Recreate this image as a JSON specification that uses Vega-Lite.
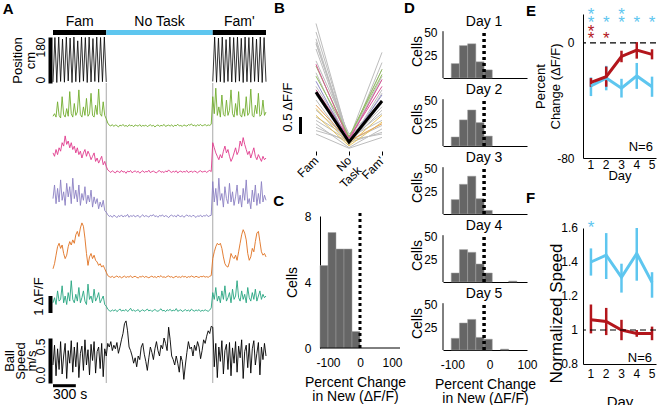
{
"$schema":"https://vega.github.io/schema/vega-lite/v6.json",
"padding":{"left":2,"top":1,"right":0,"bottom":0},
"config":{"font":"Liberation Sans","view":{"stroke":null},
"axis":{"grid":false,"domainColor":"#000000","tickColor":"#000000","labelColor":"#000000","titleColor":"#000000","labelFontSize":12,"titleFontSize":14,"titleFontWeight":"normal","labelFont":"Liberation Sans","titleFont":"Liberation Sans","labelOverlap":false,"labelFlush":false},
"legend":{"labelFont":"Liberation Sans"},"text":{"font":"Liberation Sans"}},
"datasets":{
"vr":[{"t":700},{"t":2100}],
"ph":[{"seg":"Fam","t0":0,"t1":700,"mid":350},{"seg":"No Task","t0":700,"t1":2100,"mid":1400},{"seg":"Fam'","t0":2100,"t1":2800,"mid":2450}],
"pos":[{"ph":"a","t":0,"p":4},{"ph":"a","t":25,"p":178},{"ph":"a","t":50,"p":2},{"ph":"a","t":75,"p":180},{"ph":"a","t":100,"p":6},{"ph":"a","t":125,"p":172},{"ph":"a","t":150,"p":3},{"ph":"a","t":175,"p":180},{"ph":"a","t":200,"p":8},{"ph":"a","t":225,"p":176},{"ph":"a","t":250,"p":2},{"ph":"a","t":275,"p":180},{"ph":"a","t":300,"p":5},{"ph":"a","t":325,"p":165},{"ph":"a","t":350,"p":3},{"ph":"a","t":375,"p":180},{"ph":"a","t":400,"p":7},{"ph":"a","t":425,"p":178},{"ph":"a","t":450,"p":2},{"ph":"a","t":475,"p":180},{"ph":"a","t":500,"p":4},{"ph":"a","t":525,"p":174},{"ph":"a","t":550,"p":6},{"ph":"a","t":575,"p":180},{"ph":"a","t":600,"p":3},{"ph":"a","t":625,"p":178},{"ph":"a","t":650,"p":5},{"ph":"a","t":675,"p":180},{"ph":"a","t":700,"p":4},
{"ph":"b","t":2100,"p":6},{"ph":"b","t":2125,"p":180},{"ph":"b","t":2150,"p":3},{"ph":"b","t":2175,"p":176},{"ph":"b","t":2200,"p":5},{"ph":"b","t":2225,"p":180},{"ph":"b","t":2250,"p":2},{"ph":"b","t":2275,"p":170},{"ph":"b","t":2300,"p":6},{"ph":"b","t":2325,"p":180},{"ph":"b","t":2350,"p":4},{"ph":"b","t":2375,"p":178},{"ph":"b","t":2400,"p":3},{"ph":"b","t":2425,"p":180},{"ph":"b","t":2450,"p":7},{"ph":"b","t":2475,"p":175},{"ph":"b","t":2500,"p":2},{"ph":"b","t":2525,"p":180},{"ph":"b","t":2550,"p":5},{"ph":"b","t":2575,"p":178},{"ph":"b","t":2600,"p":3},{"ph":"b","t":2625,"p":180},{"ph":"b","t":2650,"p":6},{"ph":"b","t":2675,"p":172},{"ph":"b","t":2700,"p":4},{"ph":"b","t":2725,"p":180},{"ph":"b","t":2750,"p":2},{"ph":"b","t":2775,"p":178},{"ph":"b","t":2800,"p":5}],
"tr":[
{"t":0,"g":0.75,"m":1.3,"v":1.2,"o":0.6,"c":0.6,"s":0.2},
{"t":20,"g":0.9,"m":1.1,"v":2.0,"o":0.9,"c":0.9,"s":0.42},
{"t":40,"g":0.7,"m":1.5,"v":0.9,"o":1.4,"c":0.5,"s":0.08},
{"t":60,"g":1.6,"m":1.2,"v":1.8,"o":1.9,"c":1.3,"s":0.38},
{"t":80,"g":0.8,"m":1.6,"v":1.0,"o":2.1,"c":0.7,"s":0.15},
{"t":100,"g":0.65,"m":1.4,"v":2.3,"o":1.8,"c":0.8,"s":0.46},
{"t":120,"g":1.9,"m":1.9,"v":1.1,"o":2.0,"c":1.6,"s":0.1},
{"t":140,"g":0.85,"m":1.7,"v":1.6,"o":1.5,"c":0.6,"s":0.3},
{"t":160,"g":0.7,"m":2.3,"v":0.8,"o":1.2,"c":1.0,"s":0.44},
{"t":180,"g":1.2,"m":1.8,"v":2.1,"o":1.4,"c":0.5,"s":0.05},
{"t":200,"g":0.75,"m":2.0,"v":1.3,"o":1.9,"c":1.2,"s":0.36},
{"t":220,"g":2.2,"m":1.6,"v":1.9,"o":2.2,"c":0.7,"s":0.22},
{"t":240,"g":0.9,"m":1.9,"v":0.9,"o":2.0,"c":1.9,"s":0.47},
{"t":260,"g":0.7,"m":1.5,"v":2.4,"o":2.3,"c":0.8,"s":0.12},
{"t":280,"g":1.5,"m":1.7,"v":1.2,"o":2.1,"c":0.6,"s":0.4},
{"t":300,"g":0.8,"m":1.3,"v":1.7,"o":2.6,"c":1.1,"s":0.18},
{"t":320,"g":1.0,"m":1.6,"v":1.0,"o":2.8,"c":0.7,"s":0.45},
{"t":340,"g":2.3,"m":1.2,"v":2.0,"o":2.5,"c":1.5,"s":0.06},
{"t":360,"g":0.85,"m":1.4,"v":0.8,"o":3.0,"c":0.6,"s":0.33},
{"t":380,"g":0.7,"m":1.0,"v":1.5,"o":3.3,"c":0.9,"s":0.41},
{"t":400,"g":1.3,"m":1.3,"v":1.1,"o":3.1,"c":1.3,"s":0.14},
{"t":420,"g":0.8,"m":1.5,"v":1.9,"o":2.4,"c":0.7,"s":0.48},
{"t":440,"g":1.8,"m":1.1,"v":0.9,"o":1.5,"c":0.5,"s":0.2},
{"t":460,"g":0.75,"m":1.4,"v":1.4,"o":0.8,"c":1.7,"s":0.37},
{"t":480,"g":0.9,"m":1.2,"v":1.0,"o":1.3,"c":0.8,"s":0.09},
{"t":500,"g":2.1,"m":0.9,"v":1.7,"o":1.5,"c":1.0,"s":0.43},
{"t":520,"g":0.8,"m":1.1,"v":0.7,"o":1.2,"c":0.6,"s":0.25},
{"t":540,"g":0.7,"m":1.3,"v":1.3,"o":1.4,"c":1.4,"s":0.46},
{"t":560,"g":1.4,"m":0.8,"v":0.9,"o":1.1,"c":0.7,"s":0.11},
{"t":580,"g":0.85,"m":1.0,"v":1.2,"o":1.0,"c":0.9,"s":0.35},
{"t":600,"g":2.35,"m":0.7,"v":0.6,"o":0.8,"c":1.2,"s":0.4},
{"t":620,"g":0.9,"m":0.9,"v":1.0,"o":0.9,"c":0.6,"s":0.16},
{"t":640,"g":0.75,"m":1.1,"v":0.7,"o":0.7,"c":0.8,"s":0.44},
{"t":660,"g":1.6,"m":0.6,"v":1.1,"o":0.8,"c":1.0,"s":0.07},
{"t":680,"g":0.8,"m":0.8,"v":0.5,"o":0.6,"c":0.5,"s":0.38},
{"t":700,"g":0.6,"m":0.5,"v":0.4,"o":0.4,"c":0.4,"s":0.3},
{"t":720,"g":0.35,"m":0.3,"v":0.25,"o":0.2,"c":0.22,"s":0.44},
{"t":740,"g":0.22,"m":0.22,"v":0.15,"o":0.14,"c":0.14,"s":0.4},
{"t":760,"g":0.18,"m":0.15,"v":0.2,"o":0.1,"c":0.1,"s":0.46},
{"t":780,"g":0.26,"m":0.25,"v":0.1,"o":0.16,"c":0.18,"s":0.36},
{"t":800,"g":0.15,"m":0.18,"v":0.22,"o":0.08,"c":0.12,"s":0.42},
{"t":820,"g":0.24,"m":0.12,"v":0.17,"o":0.13,"c":0.2,"s":0.38},
{"t":840,"g":0.2,"m":0.24,"v":0.08,"o":0.18,"c":0.08,"s":0.45},
{"t":860,"g":0.12,"m":0.2,"v":0.2,"o":0.1,"c":0.15,"s":0.33},
{"t":880,"g":0.23,"m":0.14,"v":0.14,"o":0.15,"c":0.24,"s":0.4},
{"t":900,"g":0.18,"m":0.27,"v":0.24,"o":0.07,"c":0.11,"s":0.48},
{"t":920,"g":0.27,"m":0.17,"v":0.12,"o":0.12,"c":0.17,"s":0.55},
{"t":940,"g":0.16,"m":0.21,"v":0.19,"o":0.17,"c":0.13,"s":0.66},
{"t":960,"g":0.21,"m":0.1,"v":0.16,"o":0.09,"c":0.21,"s":0.69},
{"t":980,"g":0.14,"m":0.23,"v":0.27,"o":0.14,"c":0.09,"s":0.58},
{"t":1000,"g":0.25,"m":0.18,"v":0.1,"o":0.11,"c":0.16,"s":0.4},
{"t":1020,"g":0.19,"m":0.26,"v":0.2,"o":0.19,"c":0.28,"s":0.36},
{"t":1040,"g":0.22,"m":0.13,"v":0.15,"o":0.08,"c":0.12,"s":0.3},
{"t":1060,"g":0.13,"m":0.2,"v":0.23,"o":0.13,"c":0.18,"s":0.22},
{"t":1080,"g":0.24,"m":0.24,"v":0.12,"o":0.16,"c":0.1,"s":0.28},
{"t":1100,"g":0.2,"m":0.16,"v":0.18,"o":0.1,"c":0.15,"s":0.18},
{"t":1120,"g":0.17,"m":0.22,"v":0.21,"o":0.06,"c":0.2,"s":0.3},
{"t":1140,"g":0.26,"m":0.11,"v":0.09,"o":0.14,"c":0.07,"s":0.26},
{"t":1160,"g":0.15,"m":0.19,"v":0.17,"o":0.12,"c":0.14,"s":0.4},
{"t":1180,"g":0.21,"m":0.25,"v":0.25,"o":0.18,"c":0.19,"s":0.44},
{"t":1200,"g":0.18,"m":0.15,"v":0.13,"o":0.09,"c":0.11,"s":0.32},
{"t":1220,"g":0.23,"m":0.21,"v":0.2,"o":0.15,"c":0.16,"s":0.24},
{"t":1240,"g":0.14,"m":0.18,"v":0.16,"o":0.11,"c":0.23,"s":0.14},
{"t":1260,"g":0.2,"m":0.28,"v":0.11,"o":0.07,"c":0.12,"s":0.28},
{"t":1280,"g":0.25,"m":0.14,"v":0.22,"o":0.13,"c":0.18,"s":0.4},
{"t":1300,"g":0.17,"m":0.2,"v":0.18,"o":0.17,"c":0.09,"s":0.34},
{"t":1320,"g":0.22,"m":0.23,"v":0.26,"o":0.1,"c":0.15,"s":0.26},
{"t":1340,"g":0.12,"m":0.17,"v":0.14,"o":0.14,"c":0.21,"s":0.38},
{"t":1360,"g":0.2,"m":0.12,"v":0.19,"o":0.08,"c":0.13,"s":0.46},
{"t":1380,"g":0.24,"m":0.22,"v":0.1,"o":0.16,"c":0.1,"s":0.36},
{"t":1400,"g":0.16,"m":0.26,"v":0.21,"o":0.12,"c":0.17,"s":0.3},
{"t":1420,"g":0.21,"m":0.16,"v":0.17,"o":0.2,"c":0.25,"s":0.42},
{"t":1440,"g":0.19,"m":0.2,"v":0.24,"o":0.1,"c":0.12,"s":0.38},
{"t":1460,"g":0.27,"m":0.14,"v":0.13,"o":0.13,"c":0.16,"s":0.5},
{"t":1480,"g":0.15,"m":0.24,"v":0.2,"o":0.09,"c":0.08,"s":0.44},
{"t":1500,"g":0.2,"m":0.18,"v":0.16,"o":0.15,"c":0.19,"s":0.36},
{"t":1520,"g":0.23,"m":0.3,"v":0.08,"o":0.18,"c":0.14,"s":0.62},
{"t":1540,"g":0.17,"m":0.2,"v":0.19,"o":0.11,"c":0.22,"s":0.48},
{"t":1560,"g":0.25,"m":0.15,"v":0.23,"o":0.14,"c":0.11,"s":0.3},
{"t":1580,"g":0.14,"m":0.22,"v":0.15,"o":0.07,"c":0.17,"s":0.26},
{"t":1600,"g":0.22,"m":0.17,"v":0.2,"o":0.12,"c":0.13,"s":0.2},
{"t":1620,"g":0.19,"m":0.25,"v":0.12,"o":0.16,"c":0.26,"s":0.3},
{"t":1640,"g":0.28,"m":0.12,"v":0.25,"o":0.1,"c":0.1,"s":0.22},
{"t":1660,"g":0.18,"m":0.2,"v":0.17,"o":0.13,"c":0.15,"s":0.12},
{"t":1680,"g":0.21,"m":0.23,"v":0.14,"o":0.09,"c":0.19,"s":0.3},
{"t":1700,"g":0.15,"m":0.16,"v":0.21,"o":0.17,"c":0.09,"s":0.24},
{"t":1720,"g":0.24,"m":0.21,"v":0.1,"o":0.12,"c":0.14,"s":0.04},
{"t":1740,"g":0.2,"m":0.18,"v":0.18,"o":0.15,"c":0.2,"s":0.2},
{"t":1760,"g":0.17,"m":0.26,"v":0.24,"o":0.08,"c":0.12,"s":0.34},
{"t":1780,"g":0.26,"m":0.14,"v":0.16,"o":0.14,"c":0.17,"s":0.46},
{"t":1800,"g":0.22,"m":0.2,"v":0.2,"o":0.11,"c":0.1,"s":0.38},
{"t":1820,"g":0.3,"m":0.22,"v":0.13,"o":0.18,"c":0.23,"s":0.4},
{"t":1840,"g":0.19,"m":0.15,"v":0.22,"o":0.13,"c":0.15,"s":0.3},
{"t":1860,"g":0.23,"m":0.24,"v":0.17,"o":0.1,"c":0.11,"s":0.42},
{"t":1880,"g":0.16,"m":0.19,"v":0.09,"o":0.16,"c":0.18,"s":0.36},
{"t":1900,"g":0.25,"m":0.13,"v":0.19,"o":0.12,"c":0.13,"s":0.46},
{"t":1920,"g":0.2,"m":0.21,"v":0.15,"o":0.09,"c":0.2,"s":0.4},
{"t":1940,"g":0.27,"m":0.25,"v":0.23,"o":0.15,"c":0.09,"s":0.27},
{"t":1960,"g":0.18,"m":0.17,"v":0.12,"o":0.13,"c":0.16,"s":0.36},
{"t":1980,"g":0.22,"m":0.2,"v":0.2,"o":0.17,"c":0.12,"s":0.48},
{"t":2000,"g":0.26,"m":0.23,"v":0.17,"o":0.11,"c":0.19,"s":0.44},
{"t":2020,"g":0.19,"m":0.15,"v":0.25,"o":0.14,"c":0.14,"s":0.52},
{"t":2040,"g":0.24,"m":0.22,"v":0.14,"o":0.1,"c":0.1,"s":0.58},
{"t":2060,"g":0.21,"m":0.27,"v":0.19,"o":0.16,"c":0.17,"s":0.55},
{"t":2080,"g":0.28,"m":0.2,"v":0.22,"o":0.2,"c":0.3,"s":0.63},
{"t":2100,"g":1.9,"m":1.9,"v":2.2,"o":1.2,"c":1.2,"s":0.62},
{"t":2120,"g":0.9,"m":1.6,"v":1.0,"o":1.6,"c":0.8,"s":0.18},
{"t":2140,"g":2.4,"m":1.3,"v":1.8,"o":1.9,"c":1.5,"s":0.44},
{"t":2160,"g":0.8,"m":1.1,"v":0.8,"o":2.1,"c":0.7,"s":0.06},
{"t":2180,"g":1.3,"m":0.9,"v":2.4,"o":2.0,"c":1.0,"s":0.4},
{"t":2200,"g":0.7,"m":1.2,"v":1.1,"o":2.1,"c":0.6,"s":0.24},
{"t":2220,"g":2.0,"m":1.0,"v":1.5,"o":1.8,"c":1.3,"s":0.47},
{"t":2240,"g":0.85,"m":1.4,"v":0.7,"o":1.3,"c":0.8,"s":0.1},
{"t":2260,"g":0.75,"m":1.7,"v":1.9,"o":0.9,"c":1.6,"s":0.36},
{"t":2280,"g":1.7,"m":1.3,"v":1.2,"o":0.75,"c":0.7,"s":0.43},
{"t":2300,"g":0.8,"m":1.5,"v":0.9,"o":0.7,"c":0.9,"s":0.15},
{"t":2320,"g":1.1,"m":1.1,"v":2.1,"o":1.0,"c":1.2,"s":0.45},
{"t":2340,"g":2.3,"m":0.8,"v":1.0,"o":1.5,"c":0.6,"s":0.08},
{"t":2360,"g":0.9,"m":1.0,"v":1.6,"o":1.3,"c":1.4,"s":0.39},
{"t":2380,"g":0.7,"m":1.3,"v":0.8,"o":1.2,"c":0.8,"s":0.22},
{"t":2400,"g":1.5,"m":1.6,"v":1.3,"o":1.4,"c":1.0,"s":0.46},
{"t":2420,"g":0.8,"m":1.2,"v":2.0,"o":1.1,"c":1.9,"s":0.12},
{"t":2440,"g":2.2,"m":1.4,"v":0.9,"o":1.6,"c":0.9,"s":0.41},
{"t":2460,"g":0.85,"m":2.0,"v":1.4,"o":2.1,"c":0.7,"s":0.28},
{"t":2480,"g":0.7,"m":1.7,"v":0.7,"o":2.6,"c":1.3,"s":0.48},
{"t":2500,"g":1.2,"m":2.2,"v":1.8,"o":2.9,"c":0.8,"s":0.05},
{"t":2520,"g":0.75,"m":1.8,"v":1.1,"o":2.7,"c":1.1,"s":0.35},
{"t":2540,"g":1.9,"m":1.5,"v":2.3,"o":2.3,"c":0.6,"s":0.42},
{"t":2560,"g":0.8,"m":1.2,"v":0.9,"o":1.5,"c":1.5,"s":0.17},
{"t":2580,"g":0.95,"m":1.4,"v":1.2,"o":1.1,"c":0.9,"s":0.44},
{"t":2600,"g":2.35,"m":1.0,"v":0.6,"o":1.3,"c":0.7,"s":0.11},
{"t":2620,"g":0.8,"m":1.3,"v":1.7,"o":1.8,"c":1.2,"s":0.38},
{"t":2640,"g":0.7,"m":1.6,"v":1.0,"o":1.6,"c":0.8,"s":0.47},
{"t":2660,"g":1.4,"m":1.1,"v":2.0,"o":2.2,"c":1.4,"s":0.2},
{"t":2680,"g":0.9,"m":0.9,"v":0.8,"o":2.7,"c":0.7,"s":0.33},
{"t":2700,"g":2.1,"m":1.2,"v":1.5,"o":2.8,"c":1.0,"s":0.45},
{"t":2720,"g":0.75,"m":1.0,"v":0.9,"o":2.2,"c":1.3,"s":0.09},
{"t":2740,"g":0.85,"m":0.8,"v":2.2,"o":1.6,"c":0.8,"s":0.4},
{"t":2760,"g":1.7,"m":1.1,"v":1.0,"o":1.4,"c":1.1,"s":0.26},
{"t":2780,"g":0.8,"m":0.9,"v":1.4,"o":1.5,"c":0.9,"s":0.44},
{"t":2800,"g":1.0,"m":1.0,"v":1.1,"o":1.3,"c":1.0,"s":0.3}],
"cells":[
{"c":1,"x":1,"v":3.55,"g":"gray"},{"c":1,"x":2,"v":0.1,"g":"gray"},{"c":1,"x":3,"v":2.0,"g":"gray"},
{"c":2,"x":1,"v":3.3,"g":"gray"},{"c":2,"x":2,"v":0.15,"g":"gray"},{"c":2,"x":3,"v":2.7,"g":"gray"},
{"c":3,"x":1,"v":3.1,"g":"gray"},{"c":3,"x":2,"v":0.05,"g":"gray"},{"c":3,"x":3,"v":2.4,"g":"gray"},
{"c":4,"x":1,"v":2.95,"g":"gray"},{"c":4,"x":2,"v":0.2,"g":"gray"},{"c":4,"x":3,"v":1.9,"g":"gray"},
{"c":5,"x":1,"v":2.8,"g":"gray"},{"c":5,"x":2,"v":0.12,"g":"gray"},{"c":5,"x":3,"v":2.2,"g":"gray"},
{"c":6,"x":1,"v":2.1,"g":"gray"},{"c":6,"x":2,"v":0.0,"g":"gray"},{"c":6,"x":3,"v":1.6,"g":"gray"},
{"c":7,"x":1,"v":1.7,"g":"gray"},{"c":7,"x":2,"v":0.18,"g":"gray"},{"c":7,"x":3,"v":1.3,"g":"gray"},
{"c":8,"x":1,"v":1.45,"g":"gray"},{"c":8,"x":2,"v":0.08,"g":"gray"},{"c":8,"x":3,"v":1.1,"g":"gray"},
{"c":9,"x":1,"v":1.3,"g":"gray"},{"c":9,"x":2,"v":-0.02,"g":"gray"},{"c":9,"x":3,"v":1.5,"g":"gray"},
{"c":10,"x":1,"v":1.0,"g":"gray"},{"c":10,"x":2,"v":0.15,"g":"gray"},{"c":10,"x":3,"v":0.9,"g":"gray"},
{"c":11,"x":1,"v":0.8,"g":"gray"},{"c":11,"x":2,"v":0.2,"g":"gray"},{"c":11,"x":3,"v":0.7,"g":"gray"},
{"c":12,"x":1,"v":0.7,"g":"gray"},{"c":12,"x":2,"v":0.1,"g":"gray"},{"c":12,"x":3,"v":0.55,"g":"gray"},
{"c":13,"x":1,"v":0.6,"g":"gray"},{"c":13,"x":2,"v":-0.1,"g":"gray"},{"c":13,"x":3,"v":0.45,"g":"gray"},
{"c":14,"x":1,"v":0.5,"g":"gray"},{"c":14,"x":2,"v":0.05,"g":"gray"},{"c":14,"x":3,"v":0.35,"g":"gray"},
{"c":15,"x":1,"v":0.4,"g":"gray"},{"c":15,"x":2,"v":0.12,"g":"gray"},{"c":15,"x":3,"v":0.3,"g":"gray"},
{"c":16,"x":1,"v":2.45,"g":"gray"},{"c":16,"x":2,"v":0.3,"g":"gray"},{"c":16,"x":3,"v":1.2,"g":"gray"},
{"c":17,"x":1,"v":0.3,"g":"gray"},{"c":17,"x":2,"v":-0.12,"g":"gray"},{"c":17,"x":3,"v":0.2,"g":"gray"},
{"c":18,"x":1,"v":3.0,"g":"gray"},{"c":18,"x":2,"v":0.05,"g":"gray"},{"c":18,"x":3,"v":1.0,"g":"gray"},
{"c":19,"x":1,"v":2.3,"g":"green"},{"c":19,"x":2,"v":0.2,"g":"green"},{"c":19,"x":3,"v":2.2,"g":"green"},
{"c":20,"x":1,"v":2.0,"g":"green"},{"c":20,"x":2,"v":0.22,"g":"green"},{"c":20,"x":3,"v":2.05,"g":"green"},
{"c":21,"x":1,"v":2.35,"g":"pink"},{"c":21,"x":2,"v":0.1,"g":"pink"},{"c":21,"x":3,"v":1.9,"g":"pink"},
{"c":22,"x":1,"v":1.6,"g":"pink"},{"c":22,"x":2,"v":0.18,"g":"pink"},{"c":22,"x":3,"v":1.7,"g":"pink"},
{"c":23,"x":1,"v":1.85,"g":"purple"},{"c":23,"x":2,"v":0.05,"g":"purple"},{"c":23,"x":3,"v":1.45,"g":"purple"},
{"c":24,"x":1,"v":1.05,"g":"yellow"},{"c":24,"x":2,"v":0.0,"g":"yellow"},{"c":24,"x":3,"v":0.85,"g":"yellow"},
{"c":25,"x":1,"v":0.85,"g":"yellow"},{"c":25,"x":2,"v":-0.05,"g":"yellow"},{"c":25,"x":3,"v":0.65,"g":"yellow"},
{"c":26,"x":1,"v":1.15,"g":"orange"},{"c":26,"x":2,"v":0.1,"g":"orange"},{"c":26,"x":3,"v":0.6,"g":"orange"}],
"mean":[{"x":1,"v":1.53},{"x":2,"v":0.065},{"x":3,"v":1.27}],
"ch":[{"x0":-125,"x1":-100,"n":5},{"x0":-100,"x1":-75,"n":7},{"x0":-75,"x1":-50,"n":6},{"x0":-50,"x1":-25,"n":6},{"x0":-25,"x1":0,"n":1}],
"dh":[
{"day":1,"x0":-103,"x1":-81,"n":16},{"day":1,"x0":-81,"x1":-59,"n":36},{"day":1,"x0":-59,"x1":-37,"n":38},{"day":1,"x0":-37,"x1":-15,"n":18},{"day":1,"x0":-15,"x1":7,"n":9},
{"day":2,"x0":-103,"x1":-81,"n":10},{"day":2,"x0":-81,"x1":-59,"n":29},{"day":2,"x0":-59,"x1":-37,"n":40},{"day":2,"x0":-37,"x1":-15,"n":26},{"day":2,"x0":-15,"x1":7,"n":11},
{"day":3,"x0":-103,"x1":-81,"n":16},{"day":3,"x0":-81,"x1":-59,"n":33},{"day":3,"x0":-59,"x1":-37,"n":42},{"day":3,"x0":-37,"x1":-15,"n":17},{"day":3,"x0":-15,"x1":7,"n":4},
{"day":4,"x0":-103,"x1":-81,"n":10},{"day":4,"x0":-81,"x1":-59,"n":36},{"day":4,"x0":-59,"x1":-37,"n":33},{"day":4,"x0":-37,"x1":-15,"n":20},{"day":4,"x0":-15,"x1":7,"n":10},{"day":4,"x0":51,"x1":73,"n":1},
{"day":5,"x0":-103,"x1":-81,"n":13},{"day":5,"x0":-81,"x1":-59,"n":30},{"day":5,"x0":-59,"x1":-37,"n":34},{"day":5,"x0":-37,"x1":-15,"n":14},{"day":5,"x0":-15,"x1":7,"n":12},{"day":5,"x0":29,"x1":51,"n":1}],
"ef":[
{"panel":"E","grp":"No Task","day":1,"m":-30,"lo":-37,"hi":-24},
{"panel":"E","grp":"No Task","day":2,"m":-24.5,"lo":-33,"hi":-16},
{"panel":"E","grp":"No Task","day":3,"m":-31.5,"lo":-38,"hi":-25},
{"panel":"E","grp":"No Task","day":4,"m":-23,"lo":-32,"hi":-14},
{"panel":"E","grp":"No Task","day":5,"m":-30.5,"lo":-37.5,"hi":-23.5},
{"panel":"E","grp":"New","day":1,"m":-27.5,"lo":-30.5,"hi":-24.5},
{"panel":"E","grp":"New","day":2,"m":-23.5,"lo":-30.5,"hi":-16.5},
{"panel":"E","grp":"New","day":3,"m":-9.5,"lo":-13.5,"hi":-5.5},
{"panel":"E","grp":"New","day":4,"m":-5,"lo":-11,"hi":0.5},
{"panel":"E","grp":"New","day":5,"m":-8,"lo":-11.5,"hi":-4.5},
{"panel":"F","grp":"No Task","day":1,"m":1.40,"lo":1.32,"hi":1.48},
{"panel":"F","grp":"No Task","day":2,"m":1.44,"lo":1.30,"hi":1.57},
{"panel":"F","grp":"No Task","day":3,"m":1.31,"lo":1.22,"hi":1.39},
{"panel":"F","grp":"No Task","day":4,"m":1.45,"lo":1.29,"hi":1.60},
{"panel":"F","grp":"No Task","day":5,"m":1.28,"lo":1.19,"hi":1.34},
{"panel":"F","grp":"New","day":1,"m":1.06,"lo":0.98,"hi":1.15},
{"panel":"F","grp":"New","day":2,"m":1.05,"lo":0.97,"hi":1.13},
{"panel":"F","grp":"New","day":3,"m":1.00,"lo":0.94,"hi":1.06},
{"panel":"F","grp":"New","day":4,"m":0.98,"lo":0.96,"hi":1.00},
{"panel":"F","grp":"New","day":5,"m":0.98,"lo":0.94,"hi":1.02}],
"stars":[
{"panel":"E","grp":"No Task","day":1,"y":22.9},{"panel":"E","grp":"No Task","day":1,"y":17.4},{"panel":"E","grp":"No Task","day":2,"y":17.4},{"panel":"E","grp":"No Task","day":3,"y":22.9},{"panel":"E","grp":"No Task","day":3,"y":17.4},{"panel":"E","grp":"No Task","day":4,"y":17.4},{"panel":"E","grp":"No Task","day":5,"y":17.4},
{"panel":"E","grp":"New","day":1,"y":11.1},{"panel":"E","grp":"New","day":1,"y":6.25},{"panel":"E","grp":"New","day":2,"y":6.25},
{"panel":"F","grp":"No Task","day":1,"y":1.629}],
"fticks":[{"v":0.8},{"v":1},{"v":1.2},{"v":1.4},{"v":1.6}]
},
"spacing":5,
"resolve":{"scale":{"x":"independent","y":"independent","color":"independent","stroke":"independent"},"legend":{"color":"independent","stroke":"independent"}},
"hconcat":[
{"vconcat":[
 {"width":213,"height":23,"layer":[
  {"data":{"name":"ph"},"mark":{"type":"rect"},"encoding":{"x":{"field":"t0","type":"quantitative","scale":{"domain":[0,2800],"nice":false,"zero":false},"axis":null},"x2":{"field":"t1"},"y":{"datum":2,"type":"quantitative","scale":{"domain":[0,23],"nice":false,"zero":false},"axis":null},"y2":{"datum":7},"color":{"field":"seg","type":"nominal","scale":{"domain":["Fam","No Task","Fam'"],"range":["#000000","#5ec6ef","#000000"]},"legend":null}}},
  {"data":{"name":"ph"},"mark":{"type":"text","fontSize":14,"baseline":"alphabetic","align":"center"},"encoding":{"x":{"field":"mid","type":"quantitative","scale":{"domain":[0,2800],"nice":false,"zero":false}},"y":{"datum":11},"text":{"field":"seg"}}},
  {"data":{"values":[{}]},"mark":{"type":"text","text":"A","fontSize":15,"fontWeight":"bold","align":"left","baseline":"alphabetic"},"encoding":{"x":{"datum":-660},"y":{"datum":23}}}
 ]},
 {"width":213,"height":46,"data":{"name":"pos"},"mark":{"type":"line","color":"#000000","strokeWidth":0.8},
  "encoding":{"x":{"field":"t","type":"quantitative","scale":{"domain":[0,2800],"nice":false,"zero":false},"axis":null},
   "y":{"field":"p","type":"quantitative","scale":{"domain":[0,180],"nice":false},"axis":{"values":[0,180],"labelAngle":270,"labelBaseline":"bottom","labelAlign":{"condition":{"test":"datum.value==0","value":"left"},"value":"right"},"ticks":false,"tickSize":0,"domainWidth":4,"offset":3,"labelPadding":3,"title":["Position","cm"],"titleFontSize":13,"titleLineHeight":13,"titlePadding":-3}},
   "detail":{"field":"ph"}}},
 {"width":213,"height":46,"layer":[
  {"data":{"name":"vr"},"mark":{"type":"rule","color":"#a8a8a8","strokeWidth":1},"encoding":{"x":{"field":"t","type":"quantitative","scale":{"domain":[0,2800],"nice":false,"zero":false},"axis":null}}},
  {"data":{"name":"tr"},"mark":{"type":"line","color":"#72ad2e","strokeWidth":0.9},"encoding":{"x":{"field":"t","type":"quantitative","scale":{"domain":[0,2800],"nice":false,"zero":false}},"y":{"field":"g","type":"quantitative","scale":{"domain":[0,2.706],"nice":false},"axis":null}}}]},
 {"width":213,"height":46,"layer":[
  {"data":{"name":"vr"},"mark":{"type":"rule","color":"#a8a8a8","strokeWidth":1},"encoding":{"x":{"field":"t","type":"quantitative","scale":{"domain":[0,2800],"nice":false,"zero":false},"axis":null}}},
  {"data":{"name":"tr"},"mark":{"type":"line","color":"#e03a8c","strokeWidth":0.9},"encoding":{"x":{"field":"t","type":"quantitative","scale":{"domain":[0,2800],"nice":false,"zero":false}},"y":{"field":"m","type":"quantitative","scale":{"domain":[0,2.706],"nice":false},"axis":null}}}]},
 {"width":213,"height":44,"layer":[
  {"data":{"name":"vr"},"mark":{"type":"rule","color":"#a8a8a8","strokeWidth":1},"encoding":{"x":{"field":"t","type":"quantitative","scale":{"domain":[0,2800],"nice":false,"zero":false},"axis":null}}},
  {"data":{"name":"tr"},"mark":{"type":"line","color":"#8b80c3","strokeWidth":0.9},"encoding":{"x":{"field":"t","type":"quantitative","scale":{"domain":[0,2800],"nice":false,"zero":false}},"y":{"field":"v","type":"quantitative","scale":{"domain":[0,2.588],"nice":false},"axis":null}}}]},
 {"width":213,"height":60,"layer":[
  {"data":{"name":"vr"},"mark":{"type":"rule","color":"#a8a8a8","strokeWidth":1},"encoding":{"x":{"field":"t","type":"quantitative","scale":{"domain":[0,2800],"nice":false,"zero":false},"axis":null}}},
  {"data":{"name":"tr"},"mark":{"type":"line","color":"#e0711f","strokeWidth":0.9},"encoding":{"x":{"field":"t","type":"quantitative","scale":{"domain":[0,2800],"nice":false,"zero":false}},"y":{"field":"o","type":"quantitative","scale":{"domain":[0,3.529],"nice":false},"axis":null}}}]},
 {"width":213,"height":34,"layer":[
  {"data":{"name":"vr"},"mark":{"type":"rule","color":"#a8a8a8","strokeWidth":1},"encoding":{"x":{"field":"t","type":"quantitative","scale":{"domain":[0,2800],"nice":false,"zero":false},"axis":null}}},
  {"data":{"name":"tr"},"mark":{"type":"line","color":"#26a580","strokeWidth":0.9},"encoding":{"x":{"field":"t","type":"quantitative","scale":{"domain":[0,2800],"nice":false,"zero":false}},"y":{"field":"c","type":"quantitative","scale":{"domain":[0,2],"nice":false},"axis":{"domain":false,"labels":false,"ticks":false,"tickSize":0,"title":"1 ΔF/F","titleFontSize":13,"titlePadding":7.5}}}},
  {"data":{"values":[{}]},"mark":{"type":"rule","color":"#000000","strokeWidth":4},"encoding":{"x":{"datum":-33},"y":{"datum":0},"y2":{"datum":1}}}]},
 {"width":213,"height":25,"data":{"name":"vr"},"mark":{"type":"rule","color":"#a8a8a8","strokeWidth":1},"encoding":{"x":{"field":"t","type":"quantitative","scale":{"domain":[0,2800],"nice":false,"zero":false},"axis":null}}},
 {"width":213,"height":45,"layer":[
  {"data":{"name":"vr"},"mark":{"type":"rule","color":"#a8a8a8","strokeWidth":1},"encoding":{"x":{"field":"t","type":"quantitative","scale":{"domain":[0,2800],"nice":false,"zero":false},"axis":null}}},
  {"data":{"name":"tr"},"mark":{"type":"line","color":"#000000","strokeWidth":0.9},"encoding":{"x":{"field":"t","type":"quantitative","scale":{"domain":[0,2800],"nice":false,"zero":false}},"y":{"field":"s","type":"quantitative","scale":{"domain":[0,0.5],"nice":false},"axis":{"values":[0,0.5],"labelAngle":270,"labelBaseline":"bottom","labelAlign":{"condition":{"test":"datum.value==0","value":"left"},"value":"right"},"ticks":false,"tickSize":0,"domainWidth":4,"offset":3,"labelPadding":3,"title":["Ball","Speed","m/s"],"titleFontSize":13,"titleLineHeight":11,"titlePadding":-4}}}},
  {"data":{"values":[{}]},"mark":{"type":"rule","color":"#000000","strokeWidth":3},"encoding":{"x":{"datum":0},"x2":{"datum":300},"y":{"datum":-0.03}}},
  {"data":{"values":[{}]},"mark":{"type":"text","text":"300 s","fontSize":14,"align":"left","baseline":"middle"},"encoding":{"x":{"datum":0},"y":{"datum":-0.13}}}]}
],"spacing":0,"bounds":"flush","resolve":{"scale":{"x":"independent","y":"independent","color":"independent"}}},
{"hconcat":[
 {"vconcat":[
  {"width":99,"height":137,"layer":[
   {"data":{"name":"cells"},"mark":{"type":"line","strokeWidth":1},"encoding":{
     "x":{"field":"x","type":"quantitative","scale":{"domain":[0.3333,3.3333],"zero":false,"nice":false},"axis":{"values":[1,2,3],"domain":false,"ticks":true,"tickSize":4,"labelAngle":-45,"labelAlign":"right","labelBaseline":"middle","labelPadding":3,"labelFontSize":12,"labelOverlap":false,"title":null,"labelExpr":"datum.value==1?'Fam':(datum.value==2?['No','Task']:\"Fam'\")"}},
     "y":{"field":"v","type":"quantitative","scale":{"domain":[-0.2,3.829],"zero":false,"nice":false},"axis":null},
     "detail":{"field":"c"},
     "color":{"field":"g","type":"nominal","scale":{"domain":["gray","green","pink","purple","yellow","orange"],"range":["#bdbdbd","#93bd62","#d9569a","#8f8dc7","#e6c35f","#e3a15a"]},"legend":null}}},
   {"data":{"name":"mean"},"mark":{"type":"line","strokeWidth":3,"color":"#000000"},"encoding":{"x":{"field":"x","type":"quantitative","scale":{"domain":[0.3333,3.3333],"zero":false,"nice":false}},"y":{"field":"v","type":"quantitative","scale":{"domain":[-0.2,3.829],"zero":false,"nice":false}}}},
   {"data":{"values":[{}]},"mark":{"type":"rule","strokeWidth":3,"color":"#000000"},"encoding":{"x":{"datum":0.53},"y":{"datum":0.3},"y2":{"datum":0.8}}},
   {"data":{"values":[{}]},"mark":{"type":"text","text":"0.5 ΔF/F","angle":270,"fontSize":13,"align":"center","baseline":"middle"},"encoding":{"x":{"datum":0.15},"y":{"datum":1.09}}},
   {"data":{"values":[{}]},"mark":{"type":"text","text":"B","fontSize":15,"fontWeight":"bold","align":"left","baseline":"alphabetic"},"encoding":{"x":{"datum":-0.27},"y":{"datum":3.845}}}]},
  {"width":122,"height":132,"layer":[
   {"data":{"name":"ch"},"mark":{"type":"rect","fill":"#666666","stroke":"#a3a3a3","strokeWidth":0.5},"encoding":{
     "x":{"field":"x0","type":"quantitative","scale":{"domain":[-206.25,175],"nice":false,"zero":false},"axis":{"values":[-100,0,100],"domain":false,"ticks":false,"tickSize":0,"labelPadding":9,"labelExpr":"''+datum.value","title":["Percent Change","in New (ΔF/F)"],"titleFontSize":14,"titleLineHeight":14,"titlePadding":7}},
     "x2":{"field":"x1"},
     "y":{"field":"n","type":"quantitative","scale":{"domain":[0,8],"nice":false},"axis":{"values":[0,4,8],"offset":-26,"ticks":false,"tickSize":0,"labelPadding":9,"title":"Cells","titleFontSize":14,"titlePadding":5}},
     "y2":{"datum":0}}},
   {"data":{"values":[{}]},"mark":{"type":"rule","color":"#000000","strokeWidth":1},"encoding":{"x":{"datum":-125},"x2":{"datum":125},"y":{"datum":0}}},
   {"data":{"values":[{}]},"mark":{"type":"rule","color":"#000000","strokeWidth":3,"strokeDash":[3,3]},"encoding":{"x":{"datum":0},"y":{"datum":0},"y2":{"datum":8.2}}},
   {"data":{"values":[{}]},"mark":{"type":"text","text":"C","fontSize":15,"fontWeight":"bold","align":"left","baseline":"alphabetic"},"encoding":{"x":{"datum":-271},"y":{"datum":8.6}}}]}
 ],"spacing":65,"bounds":"flush","resolve":{"scale":{"x":"independent","y":"independent","color":"independent"}}},
 {"hconcat":[
  {"vconcat":[
   {"width":84,"height":64,"layer":[
    {"data":{"name":"dh"},"transform":[{"filter":"datum.day==1"}],"mark":{"type":"rect","fill":"#666666","stroke":"#a3a3a3","strokeWidth":0.5},"encoding":{"x":{"field":"x0","type":"quantitative","scale":{"domain":[-125,100],"nice":false,"zero":false},"axis":{"labels":false,"ticks":false,"tickSize":0,"title":null}},"x2":{"field":"x1"},"y":{"field":"n","type":"quantitative","scale":{"domain":[0,71.1],"nice":false},"axis":{"values":[25,50],"domain":false,"ticks":false,"tickSize":0,"labelPadding":6,"title":"Cells","titleFontSize":14,"titleX":-19,"titleY":37,"titleBaseline":"bottom","titleAngle":270}},"y2":{"datum":0}}},
    {"data":{"values":[{}]},"mark":{"type":"rule","color":"#000000","strokeWidth":1},"encoding":{"x":{"datum":-125},"y":{"datum":0},"y2":{"datum":52}}},
    {"data":{"values":[{}]},"mark":{"type":"rule","color":"#000000","strokeWidth":3.5,"strokeDash":[3,3]},"encoding":{"x":{"datum":-15},"y":{"datum":0},"y2":{"datum":52}}},
    {"data":{"values":[{}]},"mark":{"type":"text","text":"Day 1","fontSize":14,"align":"center","baseline":"alphabetic"},"encoding":{"x":{"datum":-15},"y":{"datum":57.8}}},
    {"data":{"values":[{}]},"mark":{"type":"text","text":"D","fontSize":15,"fontWeight":"bold","align":"left","baseline":"alphabetic"},"encoding":{"x":{"datum":-229.5},"y":{"datum":71.7}}},
    {"data":{"values":[{}]},"mark":{"type":"text","text":"E","fontSize":15,"fontWeight":"bold","align":"left","baseline":"alphabetic"},"encoding":{"x":{"datum":97.3},"y":{"datum":68.9}}}]},
   {"width":84,"height":64,"layer":[
    {"data":{"name":"dh"},"transform":[{"filter":"datum.day==2"}],"mark":{"type":"rect","fill":"#666666","stroke":"#a3a3a3","strokeWidth":0.5},"encoding":{"x":{"field":"x0","type":"quantitative","scale":{"domain":[-125,100],"nice":false,"zero":false},"axis":{"labels":false,"ticks":false,"tickSize":0,"title":null}},"x2":{"field":"x1"},"y":{"field":"n","type":"quantitative","scale":{"domain":[0,71.1],"nice":false},"axis":{"values":[25,50],"domain":false,"ticks":false,"tickSize":0,"labelPadding":6,"title":"Cells","titleFontSize":14,"titleX":-19,"titleY":37,"titleBaseline":"bottom","titleAngle":270}},"y2":{"datum":0}}},
    {"data":{"values":[{}]},"mark":{"type":"rule","color":"#000000","strokeWidth":1},"encoding":{"x":{"datum":-125},"y":{"datum":0},"y2":{"datum":52}}},
    {"data":{"values":[{}]},"mark":{"type":"rule","color":"#000000","strokeWidth":3.5,"strokeDash":[3,3]},"encoding":{"x":{"datum":-15},"y":{"datum":0},"y2":{"datum":52}}},
    {"data":{"values":[{}]},"mark":{"type":"text","text":"Day 2","fontSize":14,"align":"center","baseline":"alphabetic"},"encoding":{"x":{"datum":-15},"y":{"datum":57.8}}}]},
   {"width":84,"height":64,"layer":[
    {"data":{"name":"dh"},"transform":[{"filter":"datum.day==3"}],"mark":{"type":"rect","fill":"#666666","stroke":"#a3a3a3","strokeWidth":0.5},"encoding":{"x":{"field":"x0","type":"quantitative","scale":{"domain":[-125,100],"nice":false,"zero":false},"axis":{"labels":false,"ticks":false,"tickSize":0,"title":null}},"x2":{"field":"x1"},"y":{"field":"n","type":"quantitative","scale":{"domain":[0,71.1],"nice":false},"axis":{"values":[25,50],"domain":false,"ticks":false,"tickSize":0,"labelPadding":6,"title":"Cells","titleFontSize":14,"titleX":-19,"titleY":37,"titleBaseline":"bottom","titleAngle":270}},"y2":{"datum":0}}},
    {"data":{"values":[{}]},"mark":{"type":"rule","color":"#000000","strokeWidth":1},"encoding":{"x":{"datum":-125},"y":{"datum":0},"y2":{"datum":52}}},
    {"data":{"values":[{}]},"mark":{"type":"rule","color":"#000000","strokeWidth":3.5,"strokeDash":[3,3]},"encoding":{"x":{"datum":-15},"y":{"datum":0},"y2":{"datum":52}}},
    {"data":{"values":[{}]},"mark":{"type":"text","text":"Day 3","fontSize":14,"align":"center","baseline":"alphabetic"},"encoding":{"x":{"datum":-15},"y":{"datum":57.8}}},
    {"data":{"values":[{}]},"mark":{"type":"text","text":"F","fontSize":15,"fontWeight":"bold","align":"left","baseline":"alphabetic"},"encoding":{"x":{"datum":97.3},"y":{"datum":12.2}}}]},
   {"width":84,"height":64,"layer":[
    {"data":{"name":"dh"},"transform":[{"filter":"datum.day==4"}],"mark":{"type":"rect","fill":"#666666","stroke":"#a3a3a3","strokeWidth":0.5},"encoding":{"x":{"field":"x0","type":"quantitative","scale":{"domain":[-125,100],"nice":false,"zero":false},"axis":{"labels":false,"ticks":false,"tickSize":0,"title":null}},"x2":{"field":"x1"},"y":{"field":"n","type":"quantitative","scale":{"domain":[0,71.1],"nice":false},"axis":{"values":[25,50],"domain":false,"ticks":false,"tickSize":0,"labelPadding":6,"title":"Cells","titleFontSize":14,"titleX":-19,"titleY":37,"titleBaseline":"bottom","titleAngle":270}},"y2":{"datum":0}}},
    {"data":{"values":[{}]},"mark":{"type":"rule","color":"#000000","strokeWidth":1},"encoding":{"x":{"datum":-125},"y":{"datum":0},"y2":{"datum":52}}},
    {"data":{"values":[{}]},"mark":{"type":"rule","color":"#000000","strokeWidth":3.5,"strokeDash":[3,3]},"encoding":{"x":{"datum":-15},"y":{"datum":0},"y2":{"datum":52}}},
    {"data":{"values":[{}]},"mark":{"type":"text","text":"Day 4","fontSize":14,"align":"center","baseline":"alphabetic"},"encoding":{"x":{"datum":-15},"y":{"datum":57.8}}}]},
   {"width":84,"height":64,"layer":[
    {"data":{"name":"dh"},"transform":[{"filter":"datum.day==5"}],"mark":{"type":"rect","fill":"#666666","stroke":"#a3a3a3","strokeWidth":0.5},"encoding":{"x":{"field":"x0","type":"quantitative","scale":{"domain":[-125,100],"nice":false,"zero":false},"axis":{"values":[-100,0,100],"ticks":false,"tickSize":0,"labelPadding":9,"labelFlush":false,"labelExpr":"''+datum.value","title":["Percent Change","in New (ΔF/F)"],"titleFontSize":14,"titleLineHeight":14,"titlePadding":7}},"x2":{"field":"x1"},"y":{"field":"n","type":"quantitative","scale":{"domain":[0,71.1],"nice":false},"axis":{"values":[25,50],"domain":false,"ticks":false,"tickSize":0,"labelPadding":6,"title":"Cells","titleFontSize":14,"titleX":-19,"titleY":37,"titleBaseline":"bottom","titleAngle":270}},"y2":{"datum":0}}},
    {"data":{"values":[{}]},"mark":{"type":"rule","color":"#000000","strokeWidth":1},"encoding":{"x":{"datum":-125},"y":{"datum":0},"y2":{"datum":52}}},
    {"data":{"values":[{}]},"mark":{"type":"rule","color":"#000000","strokeWidth":3.5,"strokeDash":[3,3]},"encoding":{"x":{"datum":-15},"y":{"datum":0},"y2":{"datum":52}}},
    {"data":{"values":[{}]},"mark":{"type":"text","text":"Day 5","fontSize":14,"align":"center","baseline":"alphabetic"},"encoding":{"x":{"datum":-15},"y":{"datum":57.8}}}]}
  ],"spacing":4,"bounds":"flush","resolve":{"scale":{"x":"independent","y":"independent","color":"independent"}}},
  {"vconcat":[
   {"width":73,"height":144,"layer":[
    {"data":{"name":"ef"},"transform":[{"filter":"datum.panel=='E'"}],"mark":{"type":"rule","strokeWidth":2.5},"encoding":{
      "x":{"field":"day","type":"quantitative","scale":{"domain":[0.48,5.26],"zero":false,"nice":false},"axis":{"values":[1,2,3,4,5],"labels":false,"ticks":false,"tickSize":0,"title":"Day","titleFontSize":13,"titlePadding":11}},
      "y":{"field":"lo","type":"quantitative","scale":{"domain":[-80,20],"zero":false,"nice":false},"axis":{"values":[-80,0],"ticks":false,"tickSize":0,"labelPadding":9,"labelOverlap":false,"labelExpr":"''+datum.value","title":["Percent","Change (ΔF/F)"],"titleFontSize":13,"titleLineHeight":15,"titleX":-36,"titleBaseline":"bottom","titleAngle":270}},
      "y2":{"field":"hi"},
      "stroke":{"field":"grp","type":"nominal","scale":{"domain":["New","No Task"],"range":["#b3161c","#5ec6ef"]},"legend":null}}},
    {"data":{"name":"ef"},"transform":[{"filter":"datum.panel=='E'"}],"mark":{"type":"line","strokeWidth":3},"encoding":{"x":{"field":"day","type":"quantitative","scale":{"domain":[0.48,5.26],"zero":false,"nice":false}},"y":{"field":"m","type":"quantitative","scale":{"domain":[-80,20],"zero":false,"nice":false}},"stroke":{"field":"grp","type":"nominal","scale":{"domain":["New","No Task"],"range":["#b3161c","#5ec6ef"]},"legend":null}}},
    {"data":{"values":[{}]},"mark":{"type":"rule","color":"#000000","strokeWidth":1.2,"strokeDash":[6,4]},"encoding":{"y":{"datum":0,"type":"quantitative","scale":{"domain":[-80,20],"zero":false,"nice":false}}}},
    {"data":{"name":"stars"},"transform":[{"filter":"datum.panel=='E'"}],"mark":{"type":"text","text":"*","fontSize":17,"baseline":"alphabetic","align":"center","dy":10},"encoding":{"x":{"field":"day","type":"quantitative","scale":{"domain":[0.48,5.26],"zero":false,"nice":false}},"y":{"field":"y","type":"quantitative","scale":{"domain":[-80,20],"zero":false,"nice":false}},"color":{"field":"grp","type":"nominal","scale":{"domain":["New","No Task"],"range":["#b3161c","#5ec6ef"]},"legend":null}}},
    {"data":{"name":"ef"},"transform":[{"filter":"datum.panel=='E' && datum.grp=='New'"}],"mark":{"type":"text","fontSize":12,"align":"center","baseline":"top"},"encoding":{"x":{"field":"day","type":"quantitative","scale":{"domain":[0.48,5.26],"zero":false,"nice":false}},"y":{"datum":-81.7},"text":{"field":"day"}}},
    {"data":{"values":[{}]},"mark":{"type":"text","text":"N=6","fontSize":13,"align":"right","baseline":"middle"},"encoding":{"x":{"datum":5.06},"y":{"datum":-72.4}}}]},
   {"width":73,"height":136,"layer":[
    {"data":{"name":"ef"},"transform":[{"filter":"datum.panel=='F'"}],"mark":{"type":"rule","strokeWidth":2.5},"encoding":{
      "x":{"field":"day","type":"quantitative","scale":{"domain":[0.48,5.26],"zero":false,"nice":false},"axis":{"values":[1,2,3,4,5],"labels":false,"ticks":false,"tickSize":0,"title":"Day","titleFontSize":15,"titlePadding":30}},
      "y":{"field":"lo","type":"quantitative","scale":{"domain":[0.8,1.6],"zero":false,"nice":false},"axis":{"values":[0.8,1,1.2,1.4,1.6],"labels":false,"ticks":false,"tickSize":0,"title":"Normalized Speed","titleFontSize":17,"titleX":-18,"titleY":85,"titleBaseline":"bottom","titleAngle":270}},
      "y2":{"field":"hi"},
      "stroke":{"field":"grp","type":"nominal","scale":{"domain":["New","No Task"],"range":["#b3161c","#5ec6ef"]},"legend":null}}},
    {"data":{"name":"ef"},"transform":[{"filter":"datum.panel=='F'"}],"mark":{"type":"line","strokeWidth":3},"encoding":{"x":{"field":"day","type":"quantitative","scale":{"domain":[0.48,5.26],"zero":false,"nice":false}},"y":{"field":"m","type":"quantitative","scale":{"domain":[0.8,1.6],"zero":false,"nice":false}},"stroke":{"field":"grp","type":"nominal","scale":{"domain":["New","No Task"],"range":["#b3161c","#5ec6ef"]},"legend":null}}},
    {"data":{"values":[{}]},"mark":{"type":"rule","color":"#000000","strokeWidth":1.2,"strokeDash":[6,4]},"encoding":{"y":{"datum":1,"type":"quantitative","scale":{"domain":[0.8,1.6],"zero":false,"nice":false}}}},
    {"data":{"name":"stars"},"transform":[{"filter":"datum.panel=='F'"}],"mark":{"type":"text","text":"*","fontSize":17,"baseline":"alphabetic","align":"center","dy":10},"encoding":{"x":{"field":"day","type":"quantitative","scale":{"domain":[0.48,5.26],"zero":false,"nice":false}},"y":{"field":"y","type":"quantitative","scale":{"domain":[0.8,1.6],"zero":false,"nice":false}},"color":{"field":"grp","type":"nominal","scale":{"domain":["New","No Task"],"range":["#b3161c","#5ec6ef"]},"legend":{"orient":"none","legendX":8,"legendY":-43,"title":null,"symbolType":"M-1,-0.55H1V0.55H-1Z","symbolSize":80,"labelFontSize":12,"strokeColor":"#aaaaaa","padding":2,"rowPadding":0,"labelOffset":2,"symbolOffset":0}}}},
    {"data":{"name":"ef"},"transform":[{"filter":"datum.panel=='F' && datum.grp=='New'"}],"mark":{"type":"text","fontSize":12,"align":"center","baseline":"top"},"encoding":{"x":{"field":"day","type":"quantitative","scale":{"domain":[0.48,5.26],"zero":false,"nice":false}},"y":{"datum":0.771},"text":{"field":"day"}}},
    {"data":{"name":"fticks"},"mark":{"type":"text","fontSize":12,"align":"right","baseline":"middle"},"encoding":{"x":{"datum":0.153},"y":{"field":"v","type":"quantitative","scale":{"domain":[0.8,1.6],"zero":false,"nice":false}},"text":{"field":"v"}}},
    {"data":{"values":[{}]},"mark":{"type":"text","text":"N=6","fontSize":13,"align":"right","baseline":"middle"},"encoding":{"x":{"datum":5.0},"y":{"datum":0.835}}}]}
  ],"spacing":70,"bounds":"flush","resolve":{"scale":{"x":"independent","y":"independent","color":"independent","stroke":"independent"},"legend":{"color":"independent","stroke":"independent"}}}
 ],"spacing":-4,"resolve":{"scale":{"x":"independent","y":"independent","color":"independent","stroke":"independent"},"legend":{"color":"independent","stroke":"independent"}}}
],"spacing":-13,"resolve":{"scale":{"x":"independent","y":"independent","color":"independent","stroke":"independent"},"legend":{"color":"independent","stroke":"independent"}}}
]
}
